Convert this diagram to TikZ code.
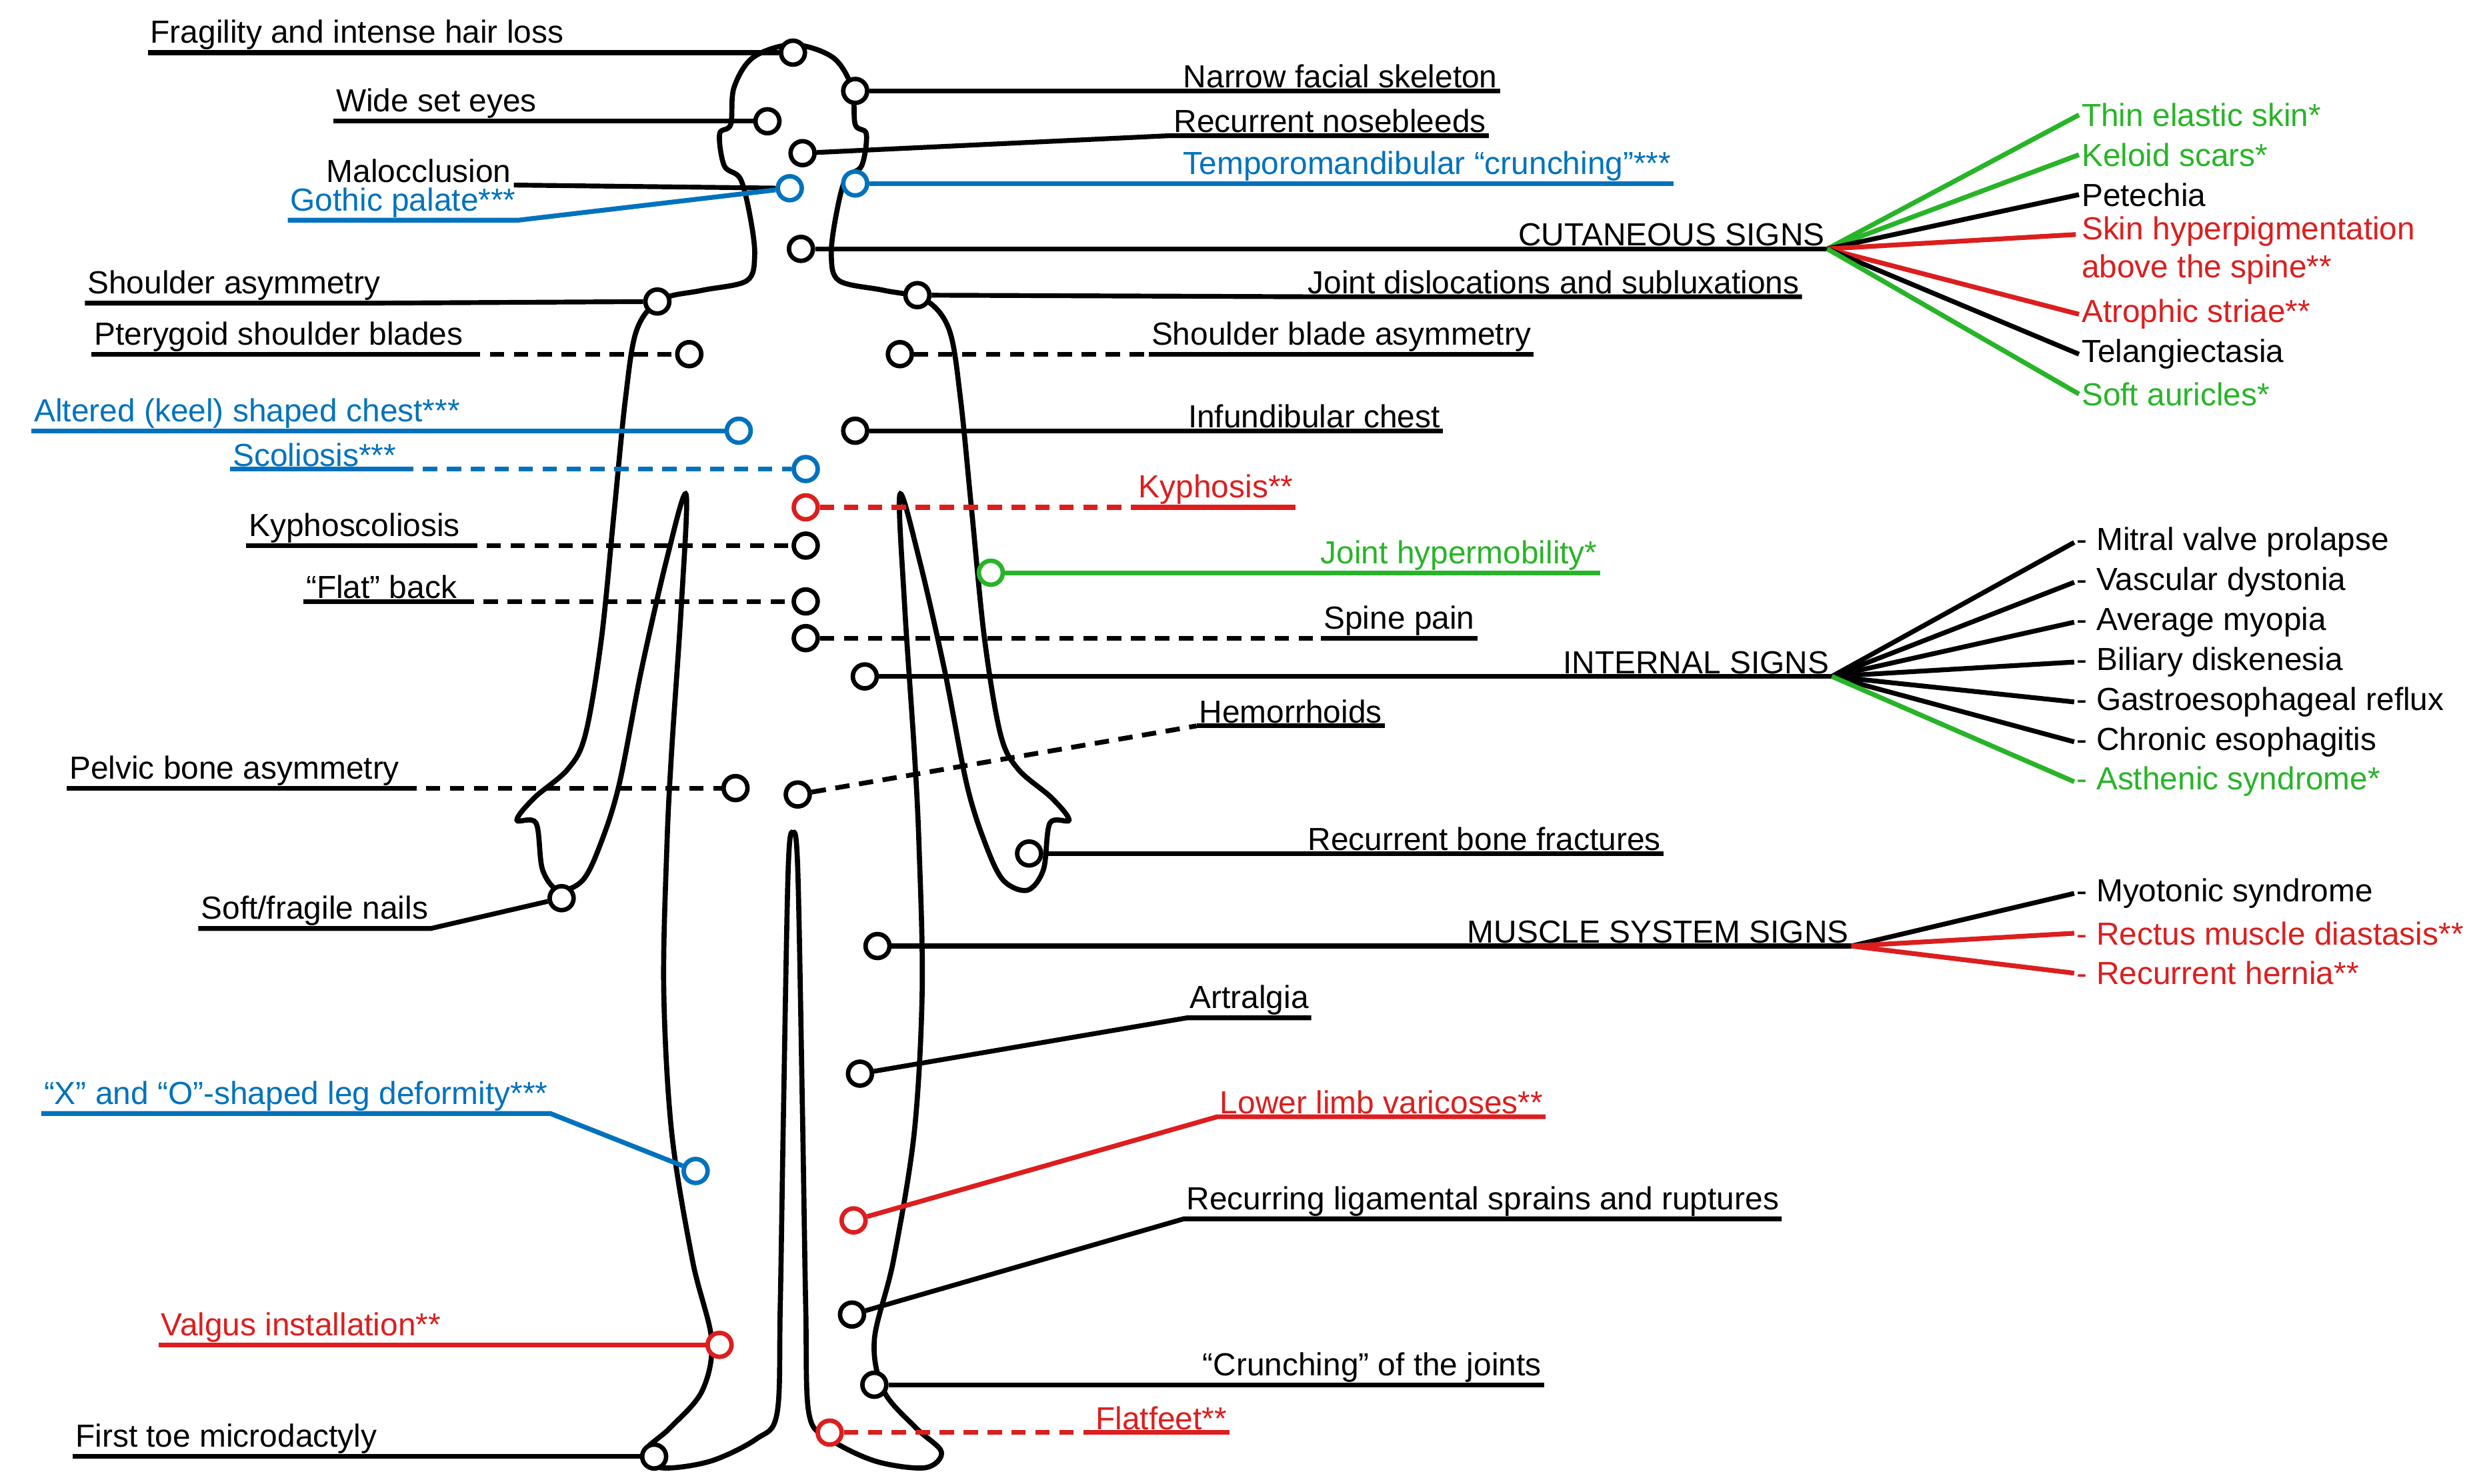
\documentclass[tikz,border=0pt]{standalone}
\usepackage{fontspec}
\setmainfont{Liberation Sans}
\begin{document}
\begin{tikzpicture}[x=1pt,y=-1pt,
 lbl/.style={inner sep=1.5pt,font=\fontsize{20}{24}\selectfont},
 fl/.style={inner sep=1.5pt,font=\fontsize{20}{24}\selectfont,anchor=west},
 ln/.style={line width=3pt},
 dsh/.style={ln,dash pattern=on 9pt off 6pt},
 mk/.style={circle,draw,fill=white,line width=2.8pt,minimum size=15pt,inner sep=0pt},
 body/.style={line width=3.2pt},
 bk/.style={draw=black},
 bl/.style={draw=myblue},
 rd/.style={draw=myred},
 gn/.style={draw=mygreen},
 tk/.style={text=black},
 tb/.style={text=myblue},
 tr/.style={text=myred},
 tg/.style={text=mygreen}]
\definecolor{myblue}{RGB}{0,114,189}
\definecolor{myred}{RGB}{220,30,30}
\definecolor{mygreen}{RGB}{40,180,40}
\useasboundingbox[fill=white] (0,0) rectangle (1560,930);
% body
\draw[body,smooth cycle,tension=0.55] plot coordinates {
(497,28) (472,36) (460,55) (458,78) (451,84) (454,104) (464,112) (470,135) (473,160) (468,176)
(440,182) (414,188) (399,207) (392,250) (385,320) (377,400) (367,460) (356,482) (335,500) (324,514)
(336,516) (340,545) (350,558) (365,552) (376,530) (388,492) (402,420) (418,350) (430,310)
(427,380) (421,470) (418,530) (416,620) (421,710) (434,790) (446,840) (440,872) (420,895) (404,910) (414,920) (445,916) (474,902) (487,886) (489,820) (491,700) (494,545) (497,522)
(500,545) (503,700) (505,820) (507,886) (520,902) (549,916) (580,920) (590,910) (574,895) (554,872) (548,840) (560,790) (573,710) (578,620) (576,530) (573,470) (567,380) (564,310)
(576,350) (592,420) (606,492) (618,530) (629,552) (644,558) (654,545) (658,516) (670,514) (659,500) (638,482) (627,460) (617,400) (609,320) (602,250) (595,207) (580,188) (554,182)
(526,176) (521,160) (524,135) (530,112) (540,104) (543,84) (536,78) (534,55) (522,36)};
% markers
\node[mk,bk] (hair) at (497,33) {};
\node[mk,bk] (eyes) at (481,76) {};
\node[mk,bl] (palate) at (495,118) {};
\node[mk,bk] (shoulder) at (412,189) {};
\node[mk,bk] (ptery) at (432,222) {};
\node[mk,bl] (keel) at (463,270) {};
\node[mk,bl] (scol) at (505,294) {};
\node[mk,bk] (kyphsc) at (505,342) {};
\node[mk,bk] (flat) at (505,377) {};
\node[mk,bk] (pelvic) at (461,494) {};
\node[mk,bk] (nails) at (352,563) {};
\node[mk,bl] (xo) at (436,734) {};
\node[mk,rd] (valgus) at (451,843) {};
\node[mk,bk] (toe) at (410,913) {};
\node[mk,bk] (narrow) at (536,57) {};
\node[mk,bk] (nose) at (503,96) {};
\node[mk,bl] (tmj) at (536,115) {};
\node[mk,bk] (cut) at (502,156) {};
\node[mk,bk] (disl) at (575,185) {};
\node[mk,bk] (sba) at (564,222) {};
\node[mk,bk] (infund) at (536,270) {};
\node[mk,rd] (kyph) at (505,318) {};
\node[mk,gn] (hyper) at (621,359) {};
\node[mk,bk] (spine) at (505,400) {};
\node[mk,bk] (intern) at (542,424) {};
\node[mk,bk] (hemo) at (500,498) {};
\node[mk,bk] (fract) at (645,535) {};
\node[mk,bk] (muscle) at (550,593) {};
\node[mk,bk] (artr) at (539,673) {};
\node[mk,rd] (vari) at (535,765) {};
\node[mk,bk] (sprain) at (534,824) {};
\node[mk,bk] (crunch) at (548,868) {};
\node[mk,rd] (flatf) at (520,898) {};
% left labels
\begin{scope}[every node/.style={lbl,anchor=south east}]
\node[tk] (Lhair) at (355,33) {Fragility and intense hair loss};
\node[tk] (Leyes) at (338,76) {Wide set eyes};
\node[tk] (Lmal) at (322,116) {Malocclusion};
\node[tb] (Lpal) at (325,138) {Gothic palate***};
\node[tk] (Lsh) at (240,190) {Shoulder asymmetry};
\node[tk] (Lpt) at (292,222) {Pterygoid shoulder blades};
\node[tb] (Lkeel) at (290,270) {Altered (keel) shaped chest***};
\node[tb] (Lscol) at (250,294) {Scoliosis***};
\node[tk] (Lksc) at (290,342) {Kyphoscoliosis};
\node[tk] (Lflat) at (288,377) {“Flat” back};
\node[tk] (Lpel) at (252,494) {Pelvic bone asymmetry};
\node[tk] (Lnail) at (270,582) {Soft/fragile nails};
\node[tb] (Lxo) at (345,698) {“X” and “O”-shaped leg deformity***};
\node[tr] (Lval) at (278,843) {Valgus installation**};
\node[tk] (Ltoe) at (238,913) {First toe microdactyly};
\end{scope}
\draw[ln] (Lhair.south west) -- (Lhair.south east) -- (hair);
\draw[ln] (Leyes.south west) -- (Leyes.south east) -- (eyes);
\draw[ln] (Lmal.south east) -- (palate);
\draw[ln,myblue] (Lpal.south west) -- (Lpal.south east) -- (palate);
\draw[ln] (Lsh.south west) -- (Lsh.south east) -- (shoulder);
\draw[ln] (Lpt.south west) -- (Lpt.south east);
\draw[dsh] (Lpt.south east) -- (ptery);
\draw[ln,myblue] (Lkeel.south west) -- (Lkeel.south east) -- (keel);
\draw[ln,myblue] (Lscol.south west) -- (Lscol.south east);
\draw[dsh,myblue] (Lscol.south east) -- (scol);
\draw[ln] (Lksc.south west) -- (Lksc.south east);
\draw[dsh] (Lksc.south east) -- (kyphsc);
\draw[ln] (Lflat.south west) -- (Lflat.south east);
\draw[dsh] (Lflat.south east) -- (flat);
\draw[ln] (Lpel.south west) -- (Lpel.south east);
\draw[dsh] (Lpel.south east) -- (pelvic);
\draw[ln] (Lnail.south west) -- (Lnail.south east) -- (nails);
\draw[ln,myblue] (Lxo.south west) -- (Lxo.south east) -- (xo);
\draw[ln,myred] (Lval.south west) -- (Lval.south east) -- (valgus);
\draw[ln] (Ltoe.south west) -- (Ltoe.south east) -- (toe);
% right labels
\begin{scope}[every node/.style={lbl,anchor=south west}]
\node[tk] (Rnar) at (740,57) {Narrow facial skeleton};
\node[tk] (Rnose) at (734,85) {Recurrent nosebleeds};
\node[tb] (Rtmj) at (740,115) {Temporomandibular “crunching”***};
\node[tk] (Rcut) at (950,156) {CUTANEOUS SIGNS};
\node[tk] (Rdisl) at (818,186) {Joint dislocations and subluxations};
\node[tk] (Rsba) at (720,222) {Shoulder blade asymmetry};
\node[tk] (Rinf) at (743,270) {Infundibular chest};
\node[tr] (Rkyph) at (712,318) {Kyphosis**};
\node[tg] (Rhyp) at (826,359) {Joint hypermobility*};
\node[tk] (Rspine) at (828,400) {Spine pain};
\node[tk] (Rint) at (978,424) {INTERNAL SIGNS};
\node[tk] (Rhemo) at (750,455) {Hemorrhoids};
\node[tk] (Rfr) at (818,535) {Recurrent bone fractures};
\node[tk] (Rmus) at (918,593) {MUSCLE SYSTEM SIGNS};
\node[tk] (Rart) at (744,638) {Artralgia};
\node[tr] (Rvar) at (763,700) {Lower limb varicoses**};
\node[tk] (Rspr) at (742,764) {Recurring ligamental sprains and ruptures};
\node[tk] (Rcr) at (752,868) {“Crunching” of the joints};
\node[tr] (Rff) at (685,898) {Flatfeet**};
\end{scope}
\draw[ln] (narrow) -- (Rnar.south west) -- (Rnar.south east);
\draw[ln] (nose) -- (Rnose.south west) -- (Rnose.south east);
\draw[ln,myblue] (tmj) -- (Rtmj.south west) -- (Rtmj.south east);
\draw[ln] (cut) -- (Rcut.south west) -- (Rcut.south east);
\draw[ln] (disl) -- (Rdisl.south west) -- (Rdisl.south east);
\draw[dsh] (sba) -- (Rsba.south west);
\draw[ln] (Rsba.south west) -- (Rsba.south east);
\draw[ln] (infund) -- (Rinf.south west) -- (Rinf.south east);
\draw[dsh,myred] (kyph) -- (Rkyph.south west);
\draw[ln,myred] (Rkyph.south west) -- (Rkyph.south east);
\draw[ln,mygreen] (hyper) -- (Rhyp.south west) -- (Rhyp.south east);
\draw[dsh] (spine) -- (Rspine.south west);
\draw[ln] (Rspine.south west) -- (Rspine.south east);
\draw[ln] (intern) -- (Rint.south west) -- (Rint.south east);
\draw[dsh] (hemo) -- (Rhemo.south west);
\draw[ln] (Rhemo.south west) -- (Rhemo.south east);
\draw[ln] (fract) -- (Rfr.south west) -- (Rfr.south east);
\draw[ln] (muscle) -- (Rmus.south west) -- (Rmus.south east);
\draw[ln] (artr) -- (Rart.south west) -- (Rart.south east);
\draw[ln,myred] (vari) -- (Rvar.south west) -- (Rvar.south east);
\draw[ln] (sprain) -- (Rspr.south west) -- (Rspr.south east);
\draw[ln] (crunch) -- (Rcr.south west) -- (Rcr.south east);
\draw[dsh,myred] (flatf) -- (Rff.south west);
\draw[ln,myred] (Rff.south west) -- (Rff.south east);
% fans
\coordinate (cf) at (Rcut.south east);
\coordinate (inf) at (Rint.south east);
\coordinate (mf) at (Rmus.south east);
\node[fl,tg] (c1) at (1303,72) {Thin elastic skin*};
\node[fl,tg] (c2) at (1303,97) {Keloid scars*};
\node[fl,tk] (c3) at (1303,122) {Petechia};
\node[fl,tr,align=left,anchor=north west] (c4) at (1303,134) {Skin hyperpigmentation\\above the spine**};
\node[fl,tr] (c5) at (1303,197) {Atrophic striae**};
\node[fl,tk] (c6) at (1303,222) {Telangiectasia};
\node[fl,tg] (c7) at (1303,247) {Soft auricles*};
\draw[ln,mygreen] (cf) -- (c1.west); \draw[ln,mygreen] (cf) -- (c2.west);
\draw[ln] (cf) -- (c3.west); \draw[ln,myred] (cf) -- (1301,147);
\draw[ln,myred] (cf) -- (c5.west); \draw[ln] (cf) -- (c6.west);
\draw[ln,mygreen] (cf) -- (c7.west);
\node[fl,tk] (i1) at (1300,340) {- Mitral valve prolapse};
\node[fl,tk] (i2) at (1300,365) {- Vascular dystonia};
\node[fl,tk] (i3) at (1300,390) {- Average myopia};
\node[fl,tk] (i4) at (1300,415) {- Biliary diskenesia};
\node[fl,tk] (i5) at (1300,440) {- Gastroesophageal reflux};
\node[fl,tk] (i6) at (1300,465) {- Chronic esophagitis};
\node[fl,tg] (i7) at (1300,490) {- Asthenic syndrome*};
\foreach \n in {1,...,6} {\draw[ln] (inf) -- (i\n.west);}
\draw[ln,mygreen] (inf) -- (i7.west);
\node[fl,tk] (m1) at (1300,560) {- Myotonic syndrome};
\node[fl,tr] (m2) at (1300,585) {- Rectus muscle diastasis**};
\node[fl,tr] (m3) at (1300,610) {- Recurrent hernia**};
\draw[ln] (mf) -- (m1.west);
\draw[ln,myred] (mf) -- (m2.west);
\draw[ln,myred] (mf) -- (m3.west);
\end{tikzpicture}
\end{document}
